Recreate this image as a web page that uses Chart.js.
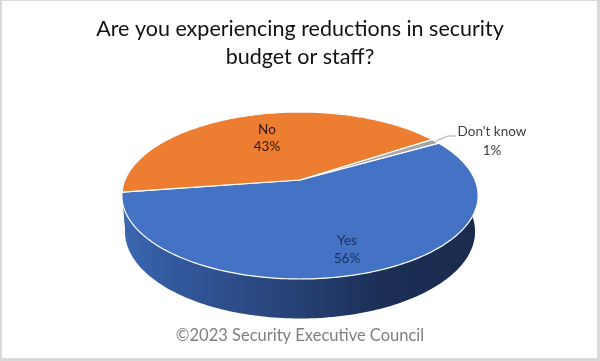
<!DOCTYPE html>
<html>
<head>
<meta charset="utf-8">
<title>Security budget reductions</title>
<script src="https://cdn.jsdelivr.net/npm/chart.js@4/dist/chart.umd.min.js"></script>
<style>
  html, body { margin: 0; padding: 0; background: #fff; }
  #wrap { position: relative; width: 600px; height: 361px; overflow: hidden; }
  #frame { position: absolute; inset: 0; box-sizing: border-box; pointer-events: none;
           border: solid #d9d9d9; border-width: 1px 3px 3px 2px; }
</style>
</head>
<body>
<div id="wrap">
  <canvas id="chart" width="600" height="361"></canvas>
  <div id="frame"></div>
</div>
<script>
const categories = ["Yes", "No", "Don't know"];
const percents = [56, 43, 1];
const sliceColors = ["#4472c4", "#ed7d31", "#a5a5a5"];
const labelColors = ["#1b2f5c", "#2b1a0c", "#404040"];
const titleLines = ["Are you experiencing reductions in security", "budget or staff?"];
const footerText = "\u00a92023 Security Executive Council";

// where the tilted disc sits on the canvas
const apexX = 300, apexY = 180;
const radiusX = 175, radiusY = 80.6, perspective = 0.1857;
const discMidY = 195.5, rimMidY = 231.5;
const rimShrinkX = 0.983, rimGrowY = 1.042;

// label centres per slice, [x, y of line 1, y of line 2]
const labelPos = [[347, 241, 259], [267, 130, 147], [492, 132, 151]];

// circle angle -> point on the tilted disc (nearer edge looks bigger)
function tilt(angle) {
  const u = Math.cos(angle), v = Math.sin(angle);
  const w = 1 - perspective * v;
  return { x: apexX + radiusX * u / w, y: apexY + radiusY * v / w };
}

function rim(angle) {
  const p = tilt(angle);
  return { x: apexX + (p.x - apexX) * rimShrinkX, y: rimMidY + (p.y - discMidY) * rimGrowY };
}

function sampleAngles(start, end) {
  const n = Math.max(2, Math.ceil((end - start) / 0.02));
  const out = [];
  for (let i = 0; i <= n; i++) out.push(start + (end - start) * i / n);
  return out;
}

class Arc3d extends Chart.ArcElement {
  static id = "arc3d";
  draw(ctx) {
    const pts = sampleAngles(this.startAngle, this.endAngle).map(tilt);
    ctx.save();
    ctx.beginPath();
    ctx.moveTo(apexX, apexY);
    pts.forEach(p => ctx.lineTo(p.x, p.y));
    ctx.closePath();
    ctx.fillStyle = this.options.backgroundColor;
    ctx.fill();
    ctx.strokeStyle = "#fff";
    ctx.lineWidth = 1.2;
    ctx.lineJoin = "round";
    ctx.stroke();
    ctx.restore();
  }
}

class Pie3dController extends Chart.PieController {
  static id = "pie3d";
  static defaults = { dataElementType: "arc3d" };
}

Chart.register(Arc3d, Pie3dController);

const sidePlugin = {
  id: "side",
  beforeDatasetsDraw(chart) {
    const ctx = chart.ctx;
    const grad = ctx.createLinearGradient(125, 0, 475, 0);
    grad.addColorStop(0, "#3a67b0");
    grad.addColorStop(0.12, "#33599f");
    grad.addColorStop(0.32, "#2d4d88");
    grad.addColorStop(0.55, "#233c6c");
    grad.addColorStop(0.75, "#1b2e54");
    grad.addColorStop(1, "#1a2b4e");
    // only the blue wall shows, the rear slices just need to stay out of sight
    chart.getDatasetMeta(0).data.forEach(arc => {
      const angles = sampleAngles(arc.startAngle, arc.endAngle);
      ctx.beginPath();
      angles.map(tilt).forEach((p, n) => n ? ctx.lineTo(p.x, p.y) : ctx.moveTo(p.x, p.y));
      angles.reverse().map(rim).forEach(p => ctx.lineTo(p.x, p.y));
      ctx.closePath();
      ctx.fillStyle = grad;
      ctx.fill();
    });
  }
};

const labelPlugin = {
  id: "sliceLabels",
  afterDatasetsDraw(chart) {
    const ctx = chart.ctx;
    // leader line for the tiny slice
    ctx.save();
    ctx.strokeStyle = "#a6a6a6";
    ctx.lineWidth = 1;
    ctx.beginPath();
    ctx.moveTo(436, 141);
    ctx.lineTo(448, 136);
    ctx.lineTo(456, 136);
    ctx.stroke();
    ctx.font = "13.5px Lato";
    ctx.textAlign = "center";
    ctx.textBaseline = "middle";
    categories.forEach((name, i) => {
      ctx.fillStyle = labelColors[i];
      ctx.fillText(name, labelPos[i][0], labelPos[i][1]);
      ctx.fillText(percents[i] + "%", labelPos[i][0], labelPos[i][2]);
    });
    ctx.restore();
  }
};

new Chart(document.getElementById("chart"), {
  type: "pie3d",
  data: {
    labels: categories,
    datasets: [{ data: percents, backgroundColor: sliceColors, borderWidth: 0 }]
  },
  plugins: [sidePlugin, labelPlugin],
  options: {
    responsive: false,
    animation: false,
    rotation: 60,
    layout: { padding: 0 },
    plugins: {
      legend: { display: false },
      tooltip: { enabled: false },
      title: {
        display: true,
        text: titleLines,
        color: "#111",
        font: { family: "Lato", size: 21.5, weight: "normal", lineHeight: 1.3 },
        padding: { top: 15, bottom: 0 }
      },
      subtitle: {
        display: true,
        position: "bottom",
        text: footerText,
        color: "#7f7f7f",
        font: { family: "Lato", size: 16.5, weight: "normal" },
        padding: { top: 0, bottom: 15 }
      }
    }
  }
});
</script>
</body>
</html>
